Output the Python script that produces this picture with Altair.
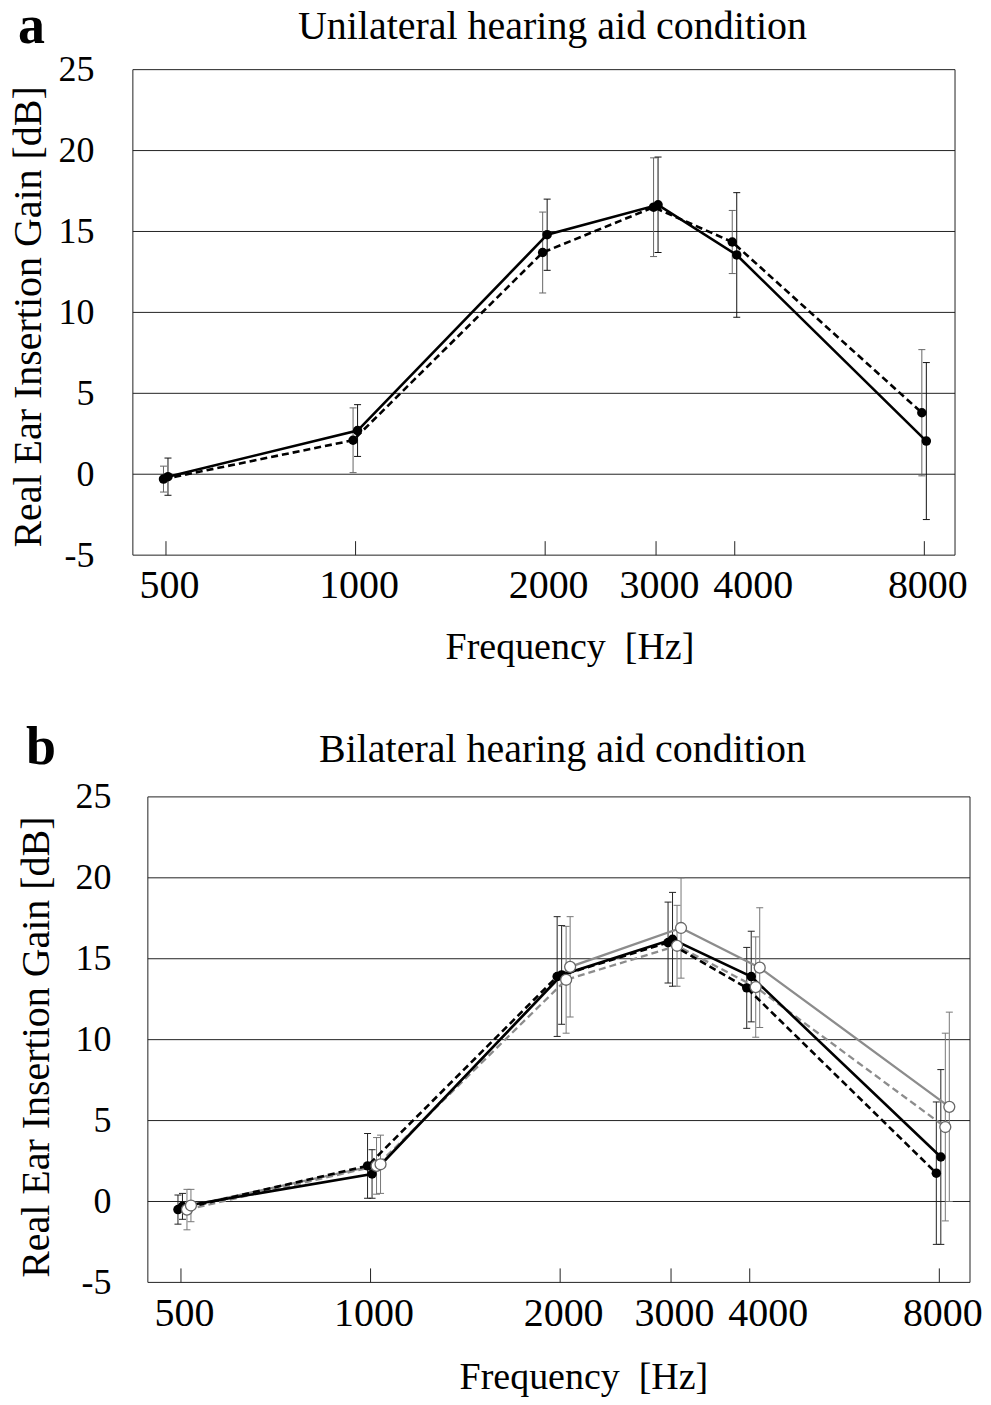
import altair as alt
import pandas as pd

# ---------------- data ----------------
freqs = [500, 1000, 2000, 3000, 4000, 8000]
x_domain = [443, 8950]
y_ticks = [-5, 0, 5, 10, 15, 20, 25]
panel_letters = ["a", "b"]
panel_titles = ["Unilateral hearing aid condition", "Bilateral hearing aid condition"]
x_title = "Frequency\u00a0 [Hz]"
y_title = "Real Ear Insertion Gain [dB]"

# panel a (means and SDs, dB)
a_solid_mean = [-0.15, 2.7, 14.8, 16.65, 13.55, 2.05]
a_solid_sd = [1.15, 1.6, 2.2, 2.95, 3.85, 4.85]
a_dashed_mean = [-0.3, 2.1, 13.7, 16.5, 14.35, 3.8]
a_dashed_sd = [0.8, 2.0, 2.5, 3.05, 1.95, 3.9]

# panel b
b_black_solid_mean = [-0.3, 1.7, 14.0, 16.2, 13.9, 2.75]
b_black_solid_sd = [0.8, 1.5, 3.05, 2.9, 2.8, 5.4]
b_black_dashed_mean = [-0.5, 2.2, 13.9, 16.0, 13.2, 1.75]
b_black_dashed_sd = [0.9, 2.0, 3.7, 2.5, 2.5, 4.4]
b_gray_solid_mean = [-0.25, 2.3, 14.5, 16.9, 14.45, 5.85]
b_gray_solid_sd = [1.0, 1.8, 3.1, 3.1, 3.7, 5.85]
b_gray_dashed_mean = [-0.5, 2.2, 13.7, 15.8, 13.25, 4.6]
b_gray_dashed_sd = [1.25, 1.75, 3.3, 2.5, 3.1, 5.8]

# ---------------- styling ----------------
FONT = "Liberation Serif"
PW = 823          # plot frame width
SHIFT = 15        # panel b frame starts 15px further right
W, H = PW + SHIFT, 486
yscale = alt.Scale(domain=[-5, 25], nice=False, zero=False)


def make_axes(x0, lab_pad_y, ttl_x_y, ttl_y_y, lab_pad_x, ttl_x_x, ttl_y_x):
    xscale = alt.Scale(type="log", domain=x_domain, nice=False, range=[x0, x0 + PW])
    xaxis = alt.Axis(
        values=freqs, format="d", ticks=False, tickSize=0, grid=False, domain=False,
        labelFont=FONT, labelFontSize=40, labelColor="black",
        labelPadding=lab_pad_x, labelFlush=False, labelOverlap=False,
        labelOffset={"condition": {"test": "datum.value == 4000", "value": 18}, "value": 3},
        title=x_title, titleFont=FONT, titleFontSize=38, titleFontWeight="normal",
        titleColor="black", titleX=ttl_x_x, titleY=ttl_y_x,
        titleBaseline="alphabetic", titleAlign="center",
    )
    yaxis = alt.Axis(
        values=y_ticks, labelExpr="'' + datum.value", ticks=False, tickSize=0,
        grid=False, domain=False,
        labelFont=FONT, labelFontSize=36, labelColor="black", labelPadding=lab_pad_y,
        title=y_title, titleFont=FONT, titleFontSize=40, titleFontWeight="normal",
        titleColor="black", titleX=ttl_x_y, titleY=ttl_y_y, titleAngle=270,
        titleBaseline="alphabetic", titleAlign="center",
    )
    return xscale, xaxis, yaxis


def frame_layers(x0, xscale, xaxis, yaxis):
    grid = alt.Chart(pd.DataFrame({"v": y_ticks})).mark_rule(color="#222", strokeWidth=1).encode(
        y=alt.Y("v:Q", scale=yscale, axis=yaxis), x=alt.value(x0), x2=alt.value(x0 + PW))
    sides = alt.Chart(pd.DataFrame({"d": x_domain})).mark_rule(color="#222", strokeWidth=1).encode(
        x=alt.X("d:Q", scale=xscale, axis=xaxis), y=alt.value(0), y2=alt.value(H))
    ticks = alt.Chart(pd.DataFrame({"f": freqs})).mark_rule(color="#222", strokeWidth=1).encode(
        x=alt.X("f:Q", scale=xscale, axis=xaxis), y=alt.value(H), y2=alt.value(H - 14))
    return [grid, sides, ticks]


def series(mean, sd, xscale, xaxis, yaxis, color, dash, filled, xoff, bar_color, lw):
    df = pd.DataFrame({"f": freqs, "m": mean, "sd": sd})
    base = alt.Chart(df).transform_calculate(lo="datum.m - datum.sd", hi="datum.m + datum.sd")
    X = alt.X("f:Q", scale=xscale, axis=xaxis)
    bars = base.mark_rule(color=bar_color, strokeWidth=1, xOffset=xoff).encode(
        x=X, y=alt.Y("lo:Q", scale=yscale, axis=yaxis), y2="hi:Q")
    cap_lo = base.mark_tick(orient="horizontal", size=7, thickness=1, color=bar_color,
                            xOffset=xoff, opacity=1).encode(
        x=X, y=alt.Y("lo:Q", scale=yscale, axis=yaxis))
    cap_hi = base.mark_tick(orient="horizontal", size=7, thickness=1, color=bar_color,
                            xOffset=xoff, opacity=1).encode(
        x=X, y=alt.Y("hi:Q", scale=yscale, axis=yaxis))
    line_kw = dict(color=color, strokeWidth=lw, xOffset=xoff)
    if dash:
        line_kw["strokeDash"] = dash
    line = base.mark_line(**line_kw).encode(x=X, y=alt.Y("m:Q", scale=yscale, axis=yaxis))
    if filled:
        pts = base.mark_circle(color="black", size=90, opacity=1, xOffset=xoff).encode(
            x=X, y=alt.Y("m:Q", scale=yscale, axis=yaxis))
    else:
        pts = base.mark_circle(fill="white", stroke="#666", strokeWidth=1.3, size=120,
                               opacity=1, xOffset=xoff).encode(
            x=X, y=alt.Y("m:Q", scale=yscale, axis=yaxis))
    return [bars, cap_lo, cap_hi], line, pts


def text_layer(txt, x, y, size, weight="normal", align="center"):
    return alt.Chart(pd.DataFrame({"t": [txt]})).mark_text(
        font=FONT, fontSize=size, fontWeight=weight, align=align,
        baseline="alphabetic", color="black").encode(
        text="t:N", x=alt.value(x), y=alt.value(y))


# ---------------- panel a ----------------
xs_a, xa, ya = make_axes(0, 39, -92, 247, 10, 437, 103)
a_sol = series(a_solid_mean, a_solid_sd, xs_a, xa, ya, "black", None, True, 2, "#111", 2.6)
a_das = series(a_dashed_mean, a_dashed_sd, xs_a, xa, ya, "black", [7, 4], True, -2.5, "#666", 2.6)

panel_a = alt.layer(
    *frame_layers(0, xs_a, xa, ya),
    *a_das[0], *a_sol[0],
    a_das[1], a_sol[1],
    a_das[2], a_sol[2],
    text_layer(panel_letters[0], -115, -27, 54, "bold", "left"),
    text_layer(panel_titles[0], 420, -30.5, 40),
).properties(width=W, height=H)

# ---------------- panel b ----------------
xs_b, xb, yb = make_axes(SHIFT, 22, -84, 250, 11, 451, 106)
b_bd = series(b_black_dashed_mean, b_black_dashed_sd, xs_b, xb, yb, "black", [7, 4], True, -3, "#222", 2.6)
b_bs = series(b_black_solid_mean, b_black_solid_sd, xs_b, xb, yb, "black", None, True, 1.5, "#222", 2.6)
b_gd = series(b_gray_dashed_mean, b_gray_dashed_sd, xs_b, xb, yb, "#8c8c8c", [7, 4], False, 6, "#777", 2.3)
b_gs = series(b_gray_solid_mean, b_gray_solid_sd, xs_b, xb, yb, "#8c8c8c", None, False, 10, "#777", 2.3)

panel_b = alt.layer(
    *frame_layers(SHIFT, xs_b, xb, yb),
    *b_bd[0], *b_bs[0], *b_gd[0], *b_gs[0],
    b_gd[1], b_gs[1], b_bd[1], b_bs[1],
    b_bd[2], b_bs[2], b_gd[2], b_gs[2],
    text_layer(panel_letters[1], -107, -33, 54, "bold", "left"),
    text_layer(panel_titles[1], 430, -34.5, 40),
).properties(width=W, height=H)

chart = alt.vconcat(panel_a, panel_b, spacing=55).properties(
    padding={"left": 0, "top": -9, "right": 0, "bottom": 0}
).configure_view(stroke="transparent", strokeWidth=0)

chart.save("out.html", embed_options={"renderer": "svg", "actions": False})
